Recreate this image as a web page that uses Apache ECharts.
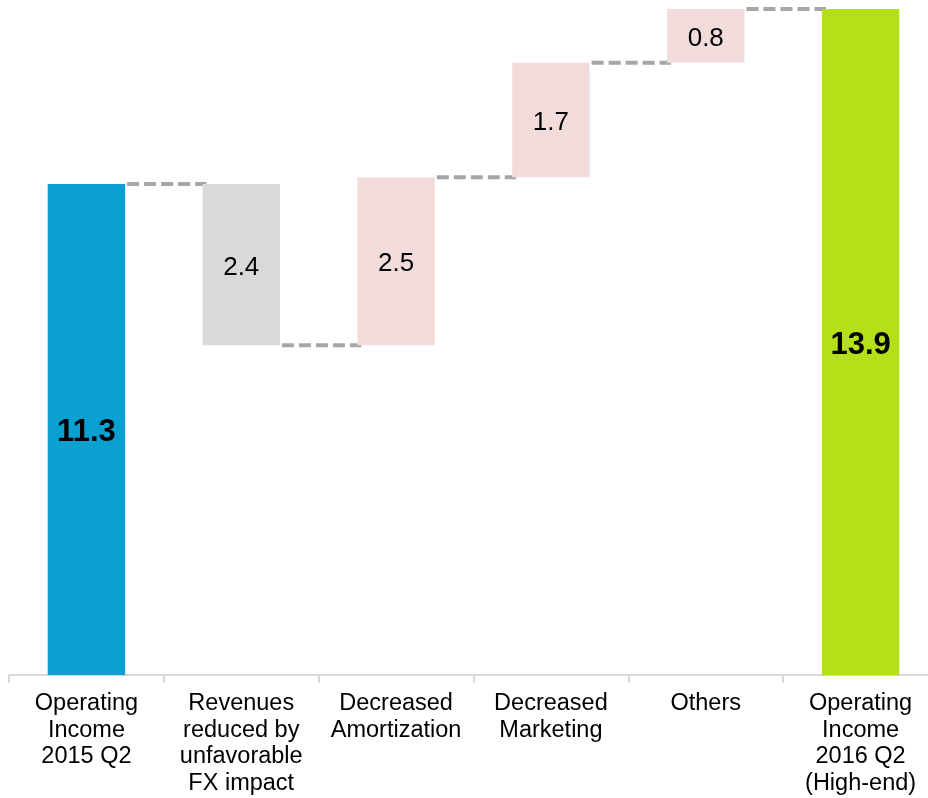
<!DOCTYPE html>
<html>
<head>
<meta charset="utf-8">
<script src="https://cdn.jsdelivr.net/npm/echarts@6/dist/echarts.min.js"></script>
<style>
  html, body { margin: 0; padding: 0; background: #fff; }
  #main { width: 928px; height: 798px; }
</style>
</head>
<body>
<div id="main"></div>
<script>
// categories along the bottom axis
var categories = [
  "Operating\nIncome\n2015 Q2",
  "Revenues\nreduced by\nunfavorable\nFX impact",
  "Decreased\nAmortization",
  "Decreased\nMarketing",
  "Others",
  "Operating\nIncome\n2016 Q2\n(High-end)"
];
// change per step (totals are absolute)
var changes = [11.3, -2.4, 2.5, 1.7, 0.8, 13.9];
var kinds = ["total", "down", "up", "up", "up", "total"];
var barColors = ["#0ba0d2", "#d9d9d9", "#f2dcdb", "#f2dcdb", "#f2dcdb", "#b5e017"];

// build invisible base + visible part of each step
var baseData = [];
var barData = [];
var levels = []; // running total after each bar, used for connectors
var running = 0;
for (var i = 0; i < changes.length; i++) {
  var v = changes[i];
  if (kinds[i] === "total") {
    running = v;
    baseData.push(0);
    barData.push({ value: v, itemStyle: { color: barColors[i] } });
  } else if (kinds[i] === "down") {
    running = running + v;
    baseData.push(running);
    barData.push({ value: -v, itemStyle: { color: barColors[i] } });
  } else {
    baseData.push(running);
    running = running + v;
    barData.push({ value: v, itemStyle: { color: barColors[i] } });
  }
  if (i < changes.length - 1) levels.push([i, running]);
}

var font = "'Liberation Sans', Arial, sans-serif";
var myChart = echarts.init(document.getElementById("main"));
var option = {
  backgroundColor: "#fff",
  animation: false,
  grid: { left: 9, top: 9, bottom: 123, width: 929, outerBoundsMode: "none" },
  xAxis: {
    type: "category",
    data: categories,
    axisLine: { show: true, lineStyle: { color: "#d9d9d9", width: 2 } },
    axisTick: { show: true, length: 8, lineStyle: { color: "#d9d9d9", width: 2 } },
    axisLabel: {
      interval: 0,
      margin: 15,
      color: "#000",
      fontFamily: font,
      fontSize: 23.5,
      lineHeight: 26.7
    }
  },
  yAxis: {
    type: "value",
    show: false,
    min: 4,
    max: 13.9,
    splitLine: { show: false }
  },
  series: [
    {
      name: "base",
      type: "bar",
      stack: "w",
      barWidth: "50%",
      itemStyle: { color: "transparent" },
      silent: true,
      data: baseData
    },
    {
      name: "step",
      type: "bar",
      stack: "w",
      barWidth: "50%",
      clip: true,
      label: {
        show: true,
        position: "inside",
        offset: [0, 3],
        color: "#000",
        fontFamily: font,
        fontSize: 26,
        formatter: function (p) {
          return kinds[p.dataIndex] === "total" ? "{b|" + p.value + "}" : p.value;
        },
        rich: {
          b: { fontFamily: font, fontSize: 31, fontWeight: "bold", color: "#000" }
        }
      },
      data: barData
    },
    {
      name: "connector",
      type: "custom",
      silent: true,
      z: 1,
      renderItem: function (params, api) {
        var idx = api.value(0);
        var lvl = api.value(1);
        var a = api.coord([idx, lvl]);
        var b = api.coord([idx + 1, lvl]);
        var half = api.size([1, 0])[0] * 0.25;
        return {
          type: "line",
          shape: { x1: a[0] + half + 2, y1: a[1], x2: b[0] - half + 4, y2: b[1] },
          style: { stroke: "#a6a6a6", lineWidth: 4, lineDash: [12, 5] }
        };
      },
      data: levels
    }
  ]
};
myChart.setOption(option);
</script>
</body>
</html>
